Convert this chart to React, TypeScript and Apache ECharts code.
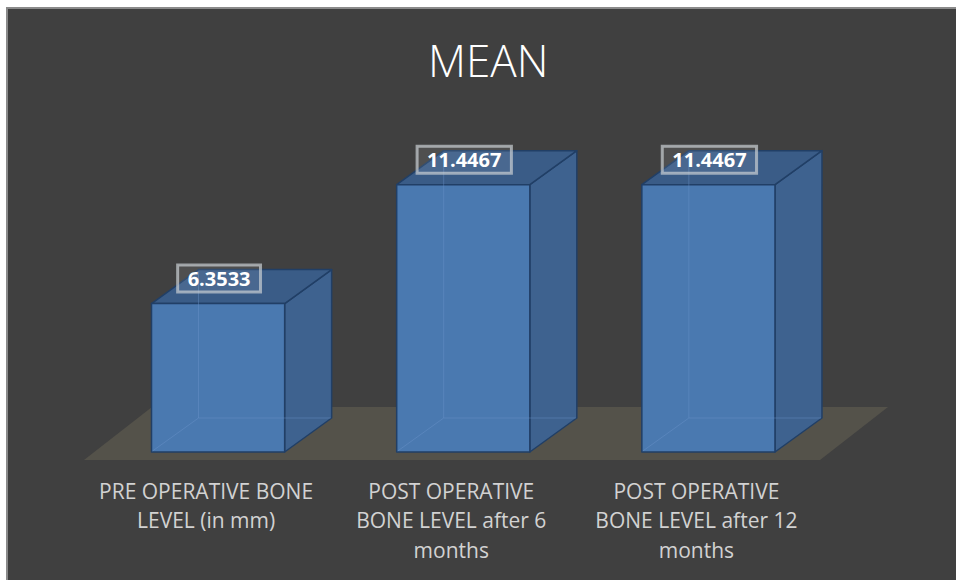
import React, { useEffect, useRef } from "react";
import * as echarts from "echarts";

const titleText = "MEAN";
const categories = [
  "PRE OPERATIVE BONE\nLEVEL (in mm)",
  "POST OPERATIVE\nBONE LEVEL after 6\nmonths",
  "POST OPERATIVE\nBONE LEVEL after 12\nmonths",
];
const meanValues = [6.3533, 11.4467, 11.4467];

const FONT = "'Open Sans', 'Noto Sans', sans-serif";

export default function App() {
  const ref = useRef<HTMLDivElement>(null);

  useEffect(() => {
    if (!ref.current) return;
    const chart = echarts.init(ref.current, null, { renderer: "svg" });
    const DX = 47;
    const DY = -34;
    const BAR_RATIO = 0.543;

    const floorRender = (params: any, api: any) => {
      const cs = params.coordSys;
      const left = cs.x;
      const right = cs.x + cs.width;
      const baseY = cs.y + cs.height;
      return {
        type: "polygon",
        shape: {
          points: [
            [left - 11.5, baseY + 8],
            [right - 11, baseY + 8],
            [right + 57, baseY - 45],
            [left + 56.5, baseY - 45],
          ],
        },
        style: { fill: "#54524a", stroke: "none" },
      };
    };

    const barRender = (params: any, api: any) => {
      const idx = api.value(0);
      const v = api.value(1);
      const top = api.coord([idx, v]);
      const base = api.coord([idx, 0]);
      const band = api.size([1, 0])[0];
      const w = band * BAR_RATIO;
      const x0 = top[0] - w / 2;
      const x1 = top[0] + w / 2;
      const y0 = top[1];
      const y1 = base[1];
      const edge = { stroke: "#213f66", lineWidth: 1.5, lineJoin: "round" };
      return {
        type: "group",
        children: [
          {
            type: "polygon",
            shape: { points: [[x1, y1], [x1, y0], [x1 + DX, y0 + DY], [x1 + DX, y1 + DY]] },
            style: { fill: "#3e628f", ...edge },
          },
          {
            type: "polygon",
            shape: { points: [[x0, y0], [x1, y0], [x1 + DX, y0 + DY], [x0 + DX, y0 + DY]] },
            style: { fill: "#3a5c87", ...edge },
          },
          {
            type: "rect",
            shape: { x: x0, y: y0, width: w, height: y1 - y0 },
            style: { fill: "#4a79b0", ...edge },
          },
          {
            type: "polyline",
            shape: { points: [[x0 + DX, y0 + DY + 2], [x0 + DX, y1 + DY], [x1 + DX - 1, y1 + DY]] },
            style: { fill: "none", stroke: "rgba(110,150,205,0.4)", lineWidth: 1 },
          },
          {
            type: "line",
            shape: { x1: x0 + 1, y1: y1 - 1, x2: x0 + DX, y2: y1 + DY },
            style: { stroke: "rgba(110,150,205,0.4)", lineWidth: 1 },
          },
          {
            type: "text",
            x: top[0] + 1,
            y: y0 - 25,
            style: {
              text: String(v),
              fill: "#ffffff",
              fontFamily: FONT,
              fontWeight: "bold",
              fontSize: 20,
              align: "center",
              verticalAlign: "middle",
              backgroundColor: "rgba(255,255,255,0.08)",
              borderColor: "rgba(200,205,210,0.7)",
              borderWidth: 1.5,
              padding: [4, 10, 3, 10],
            },
          },
        ],
      };
    };

    chart.setOption({
      animation: false,
      backgroundColor: "#ffffff",
      title: {
        text: titleText,
        left: 423,
        top: 33,
        textStyle: { color: "#ffffff", fontFamily: FONT, fontWeight: 300, fontSize: 44 },
      },
      graphic: [
        {
          type: "rect",
          z: -10,
          shape: { x: 7, y: 8, width: 960, height: 590 },
          style: { fill: "#404040", stroke: "#8a8a8a", lineWidth: 2 },
        },
      ],
      grid: { left: 95.5, right: 125, top: 125, bottom: 128 },
      xAxis: {
        type: "category",
        data: categories,
        axisLine: { show: false },
        axisTick: { show: false },
        splitLine: { show: false },
        axisLabel: {
          color: "#d2d2d2",
          fontFamily: FONT,
          fontSize: 21,
          lineHeight: 29.5,
          margin: 24,
          padding: [0, 24, 0, 0],
          interval: 0,
        },
      },
      yAxis: { type: "value", min: 0, max: 14, show: false },
      series: [
        {
          type: "custom",
          name: "floor",
          silent: true,
          z: 1,
          data: [[0, 0]],
          renderItem: floorRender,
        },
        {
          type: "custom",
          name: "MEAN",
          z: 2,
          data: meanValues.map((v, i) => [i, v]),
          renderItem: barRender,
        },
      ],
    });

    return () => chart.dispose();
  }, []);

  return (
    <div
      ref={ref}
      style={{ position: "fixed", left: 0, top: 0, width: 956, height: 580 }}
    />
  );
}
